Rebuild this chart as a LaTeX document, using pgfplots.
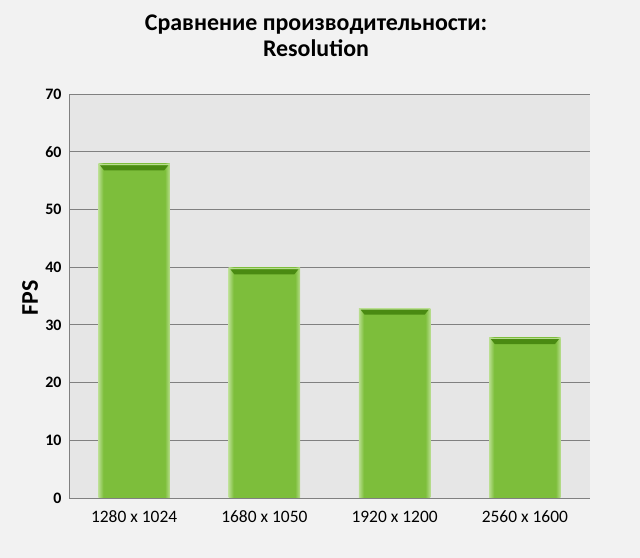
\documentclass[border=0pt]{standalone}
\usepackage{fontspec}
\setmainfont{Carlito}
\usepackage{pgfplots}
\pgfplotsset{compat=1.18}

\definecolor{bgpage}{HTML}{F2F2F2}
\definecolor{bgplot}{HTML}{E6E6E6}
\definecolor{gridc}{HTML}{808080}
\definecolor{barg}{HTML}{7DBE3B}
\definecolor{barlight}{HTML}{B9DE90}
\definecolor{bardark}{HTML}{4A8A12}

% light edges on the left and right of each bar
\pgfdeclarehorizontalshading{barshade}{100bp}{
  color(0bp)=(barlight); color(25bp)=(barlight); color(28.5bp)=(barg);
  color(71.5bp)=(barg); color(75bp)=(barlight); color(100bp)=(barlight)}

% light top edge and dark bevel band under it
\pgfdeclareplotmark{bevel}{%
  \pgfsetfillcolor{barlight}%
  \pgfpathrectangle{\pgfpoint{-35.8bp}{-1.6bp}}{\pgfpoint{71.6bp}{1.6bp}}%
  \pgfusepathqfill
  \pgfsetfillcolor{bardark}%
  \pgfpathmoveto{\pgfpoint{-34bp}{-1.6bp}}%
  \pgfpathlineto{\pgfpoint{34bp}{-1.6bp}}%
  \pgfpathlineto{\pgfpoint{30bp}{-6.6bp}}%
  \pgfpathlineto{\pgfpoint{-30bp}{-6.6bp}}%
  \pgfpathclose
  \pgfusepathqfill}

\begin{document}
\begin{tikzpicture}[x=1bp,y=1bp]
\fill[bgpage] (0,0) rectangle (640,558);
\node[font=\bfseries\fontsize{24}{26}\selectfont, align=center] at (316,522) {Сравнение производительности:\\Resolution};
\node[font=\bfseries\fontsize{24}{26}\selectfont, rotate=90] at (30,260) {FPS};
\begin{axis}[
    at={(69bp,60bp)},
    anchor=south west,
    scale only axis,
    width=521bp,
    height=404bp,
    axis background/.style={fill=bgplot},
    ybar,
    bar width=71.6bp,
    bar shift=0pt,
    xmin=-0.5, xmax=3.5,
    ymin=0, ymax=70,
    xtick={0,1,2,3},
    xticklabels={1280 x 1024,1680 x 1050,1920 x 1200,2560 x 1600},
    ytick={0,10,...,70},
    major tick length=0pt,
    axis x line*=bottom,
    axis y line*=left,
    axis line style={gridc, line width=0.8pt},
    ymajorgrids,
    grid style={gridc, line width=0.8pt},
    x tick label style={font=\fontsize{17.5}{19}\selectfont, yshift=-9bp,
        anchor=north, text height=12bp, text depth=3bp},
    y tick label style={font=\bfseries\fontsize{16}{18}\selectfont, xshift=-4bp},
    /pgf/number format/assume math mode=true,
    clip=false,
]
% one plot per bar, so that each bar gets its own shading
\addplot[draw=none, shading=barshade] coordinates {(0,57.9)};
\addplot[draw=none, shading=barshade] coordinates {(1,39.9)};
\addplot[draw=none, shading=barshade] coordinates {(2,32.9)};
\addplot[draw=none, shading=barshade] coordinates {(3,27.8)};
\addplot[only marks, mark=bevel] coordinates {
    (0,57.9) (1,39.9) (2,32.9) (3,27.8)
};
\end{axis}
\end{tikzpicture}
\end{document}
